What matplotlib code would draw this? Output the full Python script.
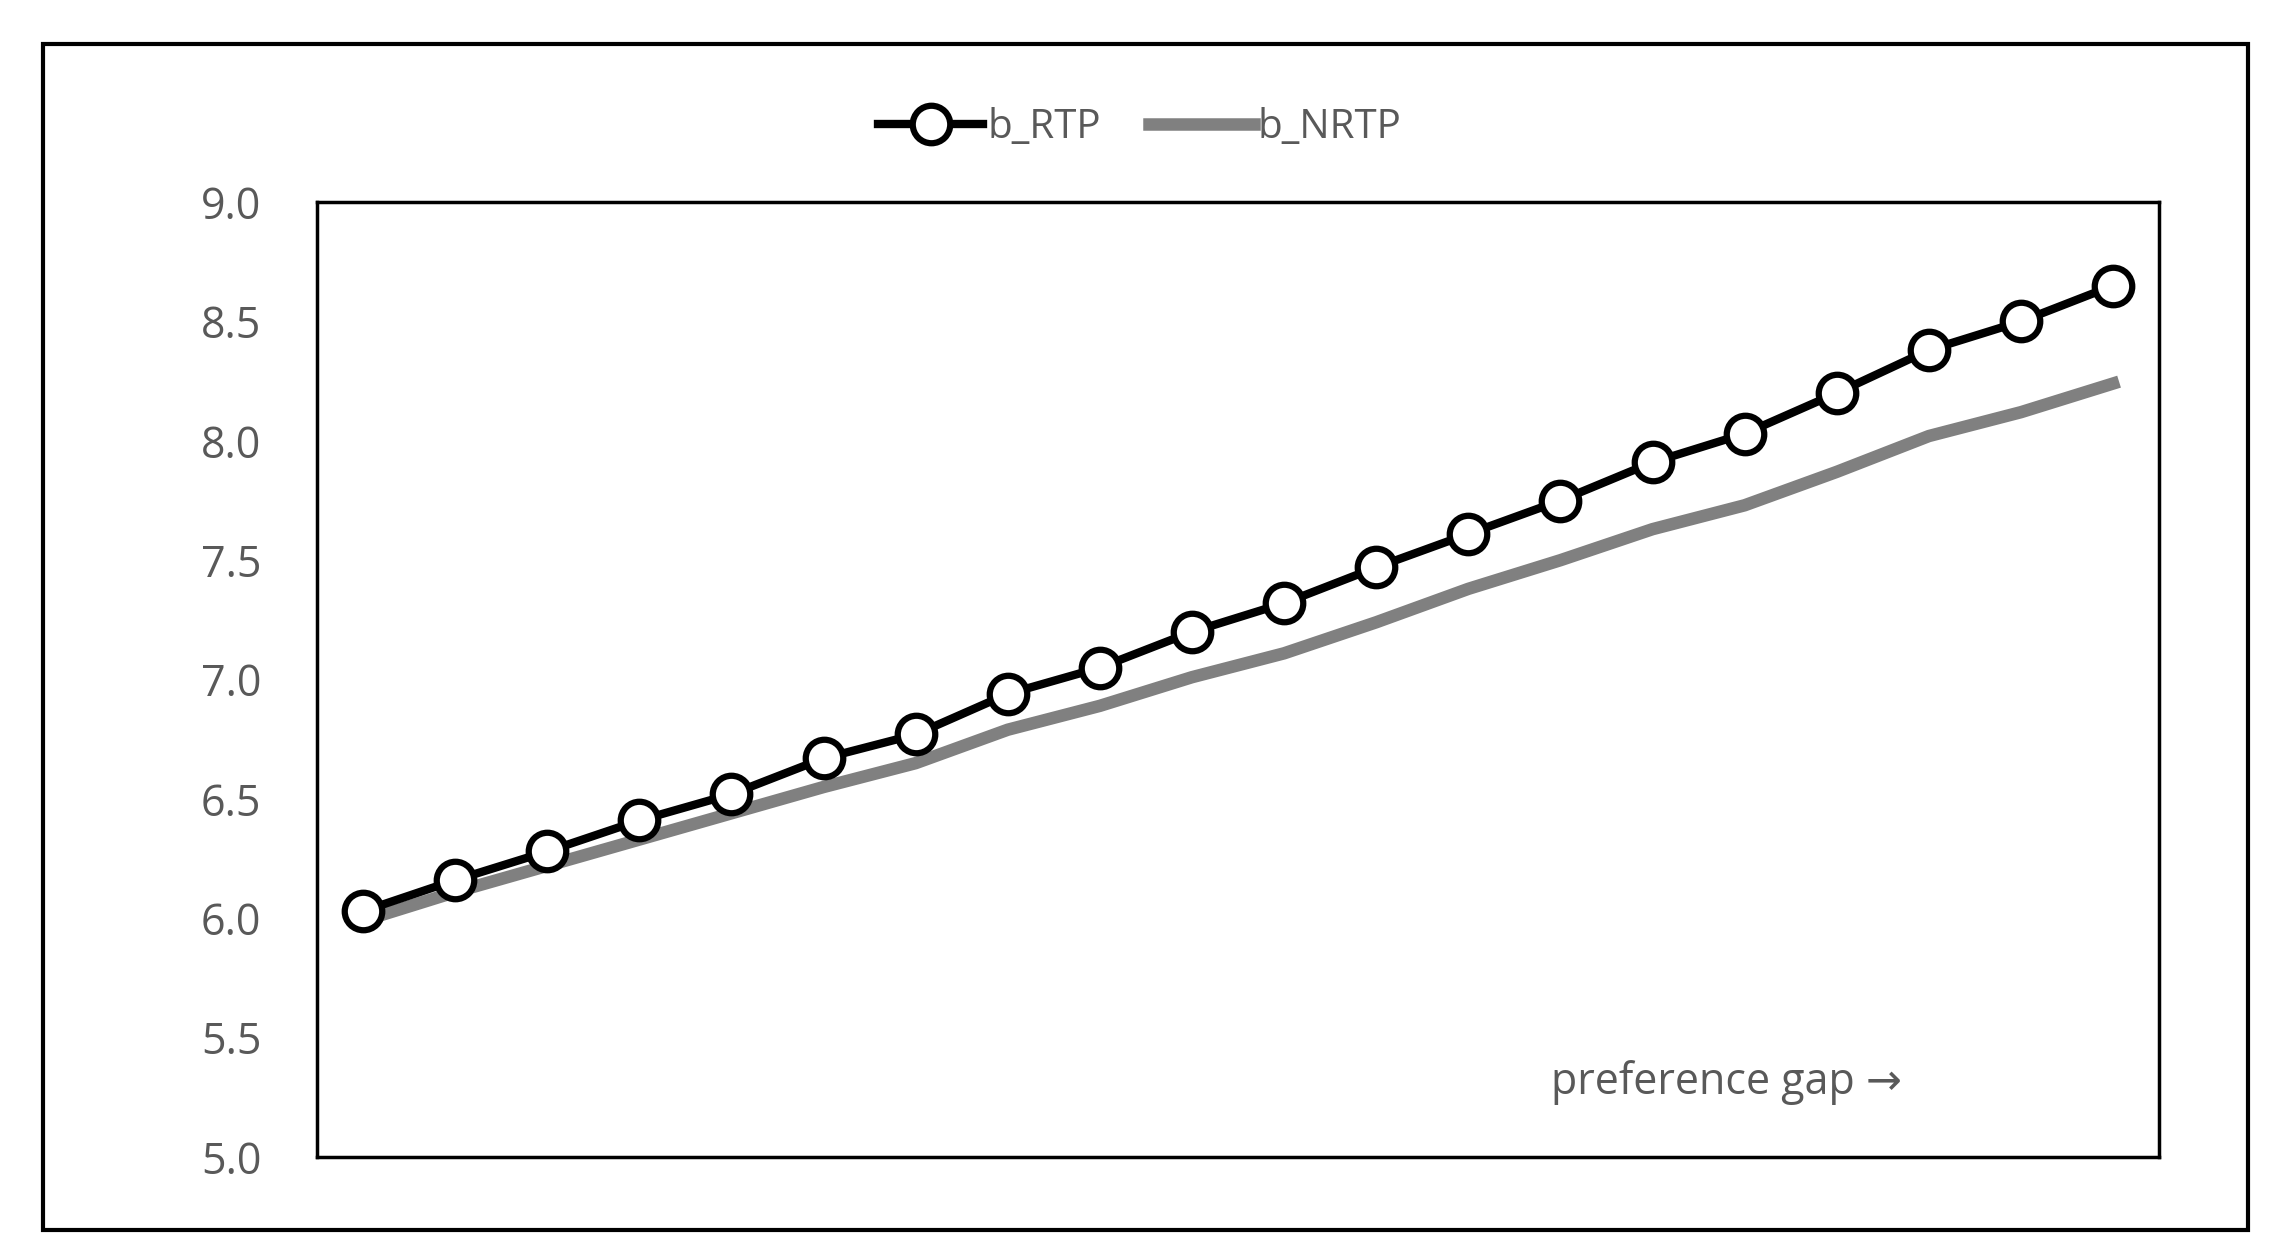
import matplotlib.pyplot as plt
from matplotlib.patches import Rectangle

plt.rcParams['font.family'] = ['Open Sans', 'DejaVu Sans']

# values (20 categories along the preference gap)
b_rtp = [6.03, 6.16, 6.28, 6.41, 6.52, 6.67, 6.77, 6.94, 7.05, 7.20,
         7.32, 7.47, 7.61, 7.75, 7.91, 8.03, 8.20, 8.38, 8.50, 8.65]
b_nrtp = [5.99, 6.11, 6.22, 6.33, 6.44, 6.55, 6.65, 6.79, 6.89, 7.01,
          7.11, 7.24, 7.38, 7.50, 7.63, 7.73, 7.87, 8.02, 8.12, 8.24]
y_ticks = [5.0, 5.5, 6.0, 6.5, 7.0, 7.5, 8.0, 8.5, 9.0]
x = list(range(len(b_rtp)))

fig = plt.figure(figsize=(22.8, 12.55), dpi=100)
fig.patches.append(Rectangle((0.019, 0.02), 0.967, 0.945, transform=fig.transFigure,
                             fill=False, edgecolor='black', linewidth=3))
ax = fig.add_axes([0.139, 0.078, 0.808, 0.761])

ax.plot(x, b_rtp, color='black', linewidth=6, marker='o', markersize=27,
        markerfacecolor='white', markeredgecolor='black', markeredgewidth=4.5,
        label='b_RTP', zorder=3)
ax.plot(x, b_nrtp, color='#808080', linewidth=9, label='b_NRTP', zorder=2)

ax.set_xlim(-0.5, len(x) - 0.5)
ax.set_ylim(5.0, 9.0)
ax.set_yticks(y_ticks)
ax.set_yticklabels([f'{v:.1f}' for v in y_ticks], color='#595959', fontsize=31)
ax.set_xticks([])
ax.tick_params(axis='y', length=0, pad=40)
for s in ax.spines.values():
    s.set_linewidth(2.5)

ax.text(0.67, 0.055, 'preference gap →', transform=ax.transAxes,
        fontsize=31, color='#595959', ha='left', va='bottom')

fig.legend(loc='center', bbox_to_anchor=(0.5, 0.898), ncol=2, frameon=False,
           fontsize=29, labelcolor='#595959', handlelength=2.6, handletextpad=0.1,
           columnspacing=1.2)

fig.savefig('out.png', dpi=100)
